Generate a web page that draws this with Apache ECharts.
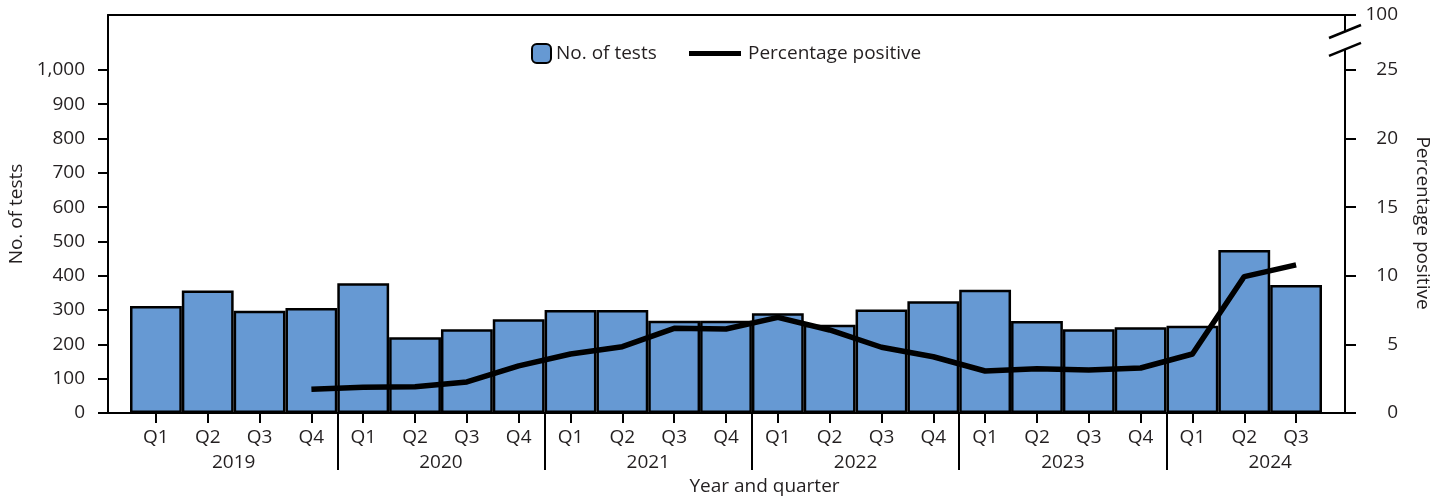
<!DOCTYPE html>
<html>
<head>
<meta charset="utf-8">
<script src="https://cdn.jsdelivr.net/npm/echarts@6/dist/echarts.min.js"></script>
<style>
html,body{margin:0;padding:0;background:#fff;}
#chart{width:1450px;height:500px;}
</style>
</head>
<body>
<div id="chart"></div>
<script>
// ---- data ----
const quarters = ['2019 Q1','2019 Q2','2019 Q3','2019 Q4','2020 Q1','2020 Q2','2020 Q3','2020 Q4','2021 Q1','2021 Q2','2021 Q3','2021 Q4','2022 Q1','2022 Q2','2022 Q3','2022 Q4','2023 Q1','2023 Q2','2023 Q3','2023 Q4','2024 Q1','2024 Q2','2024 Q3'];
const years = ['2019','2020','2021','2022','2023','2024',''];
const tests = [312, 357, 298, 306, 378, 221, 244, 273, 300, 300, 269, 269, 291, 257, 302, 326, 359, 268, 244, 250, 254, 475, 373];
const pctPositive = [null, null, null, 1.73, 1.88, 1.92, 2.26, 3.43, 4.3, 4.83, 6.17, 6.12, 6.97, 6.05, 4.79, 4.1, 3.06, 3.23, 3.13, 3.28, 4.3, 9.94, 10.79];
const leftTicks = [0,100,200,300,400,500,600,700,800,900,1000];
const rightTicks = [0,5,10,15,20,25,29];
const rightTopLabel = '100';

// ---- style ----
const FONT = 'Open Sans';
const TXT = '#231f20';
const FS = 19;
const LEFT_MAX = 1160, RIGHT_MAX = 29;
const PLOT_L = 130, BAND = 1192 / quarters.length;

const chart = echarts.init(document.getElementById('chart'), null, {renderer: 'canvas'});
const axisLineStyle = {show: true, onZero: false, lineStyle: {color: '#000', width: 2}};

const option = {
  animation: false,
  backgroundColor: '#fff',
  textStyle: {fontFamily: FONT, color: TXT},
  grid: [
    {left: 108, right: 105, top: 15, bottom: 87, outerBoundsMode: 'none', containLabel: false},
    {left: PLOT_L, width: BAND * quarters.length, top: 15, bottom: 87, outerBoundsMode: 'none', containLabel: false},
    {left: PLOT_L, width: BAND * 4 * years.length, top: 15, bottom: 87, outerBoundsMode: 'none', containLabel: false}
  ],
  legend: [
    {data: ['No. of tests'], left: 531, top: 43, padding: 0, itemWidth: 19, itemHeight: 19,
     itemStyle: {borderColor: '#000', borderWidth: 2},
     textStyle: {fontFamily: FONT, fontSize: FS, color: TXT}},
    {data: [{name: 'Percentage positive', icon: 'rect'}], left: 689, top: 44, padding: 0, itemWidth: 52, itemHeight: 5,
     itemStyle: {color: '#000', borderWidth: 0},
     textStyle: {fontFamily: FONT, fontSize: FS, color: TXT, padding: [0,0,0,2]}}
  ],
  xAxis: [
    {gridIndex: 0, type: 'value', min: 0, max: 1, position: 'bottom', axisLine: axisLineStyle,
     axisTick: {show: false}, axisLabel: {show: false}, splitLine: {show: false},
     name: 'Year and quarter', nameLocation: 'middle', nameGap: 64,
     nameTextStyle: {fontFamily: FONT, fontSize: FS, color: TXT, padding: [0,0,0,76]}},
    {gridIndex: 0, type: 'value', min: 0, max: 1, position: 'top', axisLine: axisLineStyle,
     axisTick: {show: false}, axisLabel: {show: false}, splitLine: {show: false}},
    {gridIndex: 1, type: 'category', data: quarters, position: 'bottom',
     axisLine: {show: false, onZero: false},
     axisTick: {show: true, alignWithLabel: true, length: 10, lineStyle: {color: '#000', width: 2}},
     axisLabel: {interval: 0, margin: 15, fontFamily: FONT, fontSize: FS, color: TXT,
                 formatter: v => v.split(' ')[1]},
     splitLine: {show: false}},
    {gridIndex: 2, type: 'category', data: years, position: 'bottom',
     axisLine: {show: false, onZero: false},
     axisTick: {show: true, alignWithLabel: false, length: 57,
                interval: (i) => i >= 1 && i <= 5, lineStyle: {color: '#000', width: 2}},
     axisLabel: {interval: 0, margin: 40, fontFamily: FONT, fontSize: FS, color: TXT},
     splitLine: {show: false}}
  ],
  yAxis: [
    {gridIndex: 0, type: 'value', position: 'left', min: 0, max: LEFT_MAX,
     axisLine: axisLineStyle,
     axisTick: {show: true, length: 10, customValues: leftTicks, lineStyle: {color: '#000', width: 2}},
     axisLabel: {customValues: leftTicks, margin: 23, fontFamily: FONT, fontSize: FS, color: TXT,
                 formatter: v => v.toLocaleString('en-US')},
     splitLine: {show: false},
     name: 'No. of tests', nameLocation: 'middle', nameGap: 80, nameRotate: 90,
     nameTextStyle: {fontFamily: FONT, fontSize: FS, color: TXT}},
    {gridIndex: 0, type: 'value', position: 'right', min: 0, max: RIGHT_MAX,
     axisLine: axisLineStyle,
     axisTick: {show: true, length: 11, customValues: rightTicks, lineStyle: {color: '#000', width: 2}},
     axisLabel: {customValues: rightTicks, margin: 53, align: 'right', fontFamily: FONT, fontSize: FS, color: TXT,
                 formatter: v => (v === RIGHT_MAX ? rightTopLabel : String(v))},
     splitLine: {show: false},
     name: 'Percentage positive', nameLocation: 'middle', nameGap: 68, nameRotate: -90,
     nameTextStyle: {fontFamily: FONT, fontSize: FS, color: TXT, padding: [0,0,0,18]}},
    {gridIndex: 1, type: 'value', min: 0, max: LEFT_MAX, show: false},
    {gridIndex: 1, type: 'value', min: 0, max: RIGHT_MAX, show: false},
    {gridIndex: 2, type: 'value', min: 0, max: 1, show: false}
  ],
  series: [
    {name: 'No. of tests', type: 'bar', xAxisIndex: 2, yAxisIndex: 2, data: tests,
     barCategoryGap: '0%', barGap: '0%',
     itemStyle: {color: '#6699d3', borderColor: '#000', borderWidth: 2.5}, z: 2},
    {name: 'Percentage positive', type: 'line', xAxisIndex: 2, yAxisIndex: 3, data: pctPositive,
     showSymbol: false, symbol: 'none', smooth: false, connectNulls: false,
     lineStyle: {color: '#000', width: 5.5, join: 'round', cap: 'butt'},
     itemStyle: {color: '#000'}, z: 5}
  ]
};
chart.setOption(option);

// axis break marks on the right axis (decoration)
const ax = chart.convertToPixel({xAxisIndex: 0}, 1);
const y1 = chart.convertToPixel({yAxisIndex: 1}, 27.8);
const y2 = chart.convertToPixel({yAxisIndex: 1}, 26.5);
chart.setOption({
  graphic: [
    {type: 'rect', shape: {x: ax - 3, y: y1, width: 6, height: y2 - y1}, style: {fill: '#fff'}, z: 100},
    {type: 'line', shape: {x1: ax - 16, y1: y1 + 6.5, x2: ax + 16, y2: y1 - 6.5}, style: {stroke: '#000', lineWidth: 2.5}, z: 101},
    {type: 'line', shape: {x1: ax - 16, y1: y2 + 6.5, x2: ax + 16, y2: y2 - 6.5}, style: {stroke: '#000', lineWidth: 2.5}, z: 101}
  ]
});
</script>
</body>
</html>
